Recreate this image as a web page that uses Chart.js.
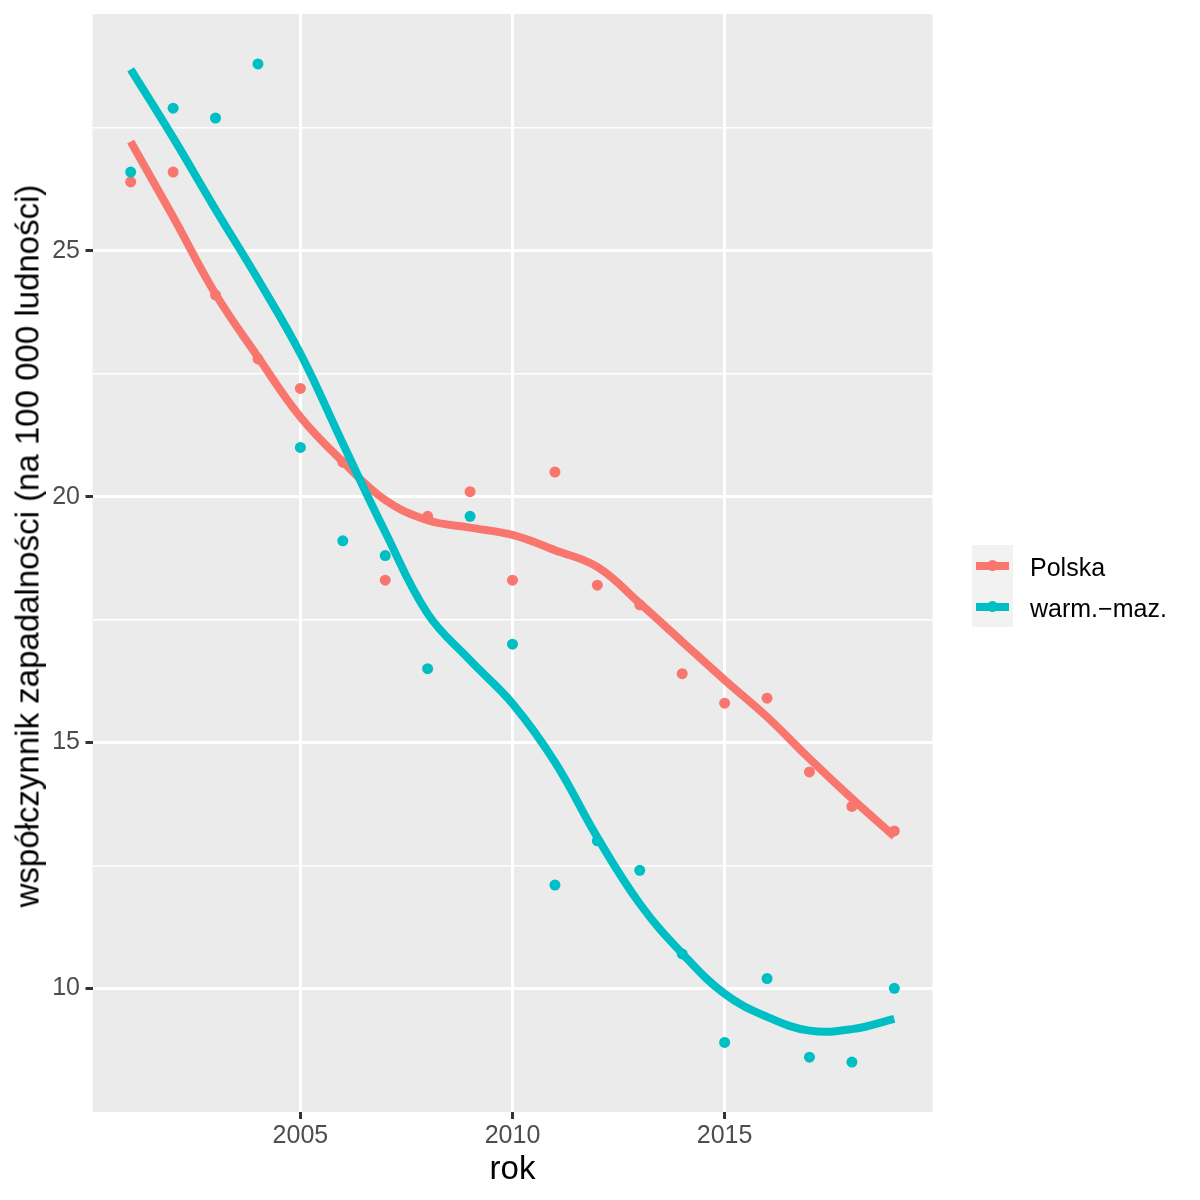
<!DOCTYPE html>
<html>
<head>
<meta charset="utf-8">
<script src="https://cdn.jsdelivr.net/npm/chart.js@4.4.1/dist/chart.umd.min.js"></script>
<style>
  html, body { margin: 0; padding: 0; background: #ffffff; }
  #wrap { position: relative; width: 1200px; height: 1200px; font-family: "Liberation Sans", Arial, sans-serif; }
  #c { position: absolute; left: 0; top: 0; }
  .title { position: absolute; white-space: nowrap; color: #000000; font-size: 33px; line-height: 33px; }
  #ytitle { left: 27px; top: 545.5px; transform: translate(-50%, -50%) rotate(-90deg); }
  #xtitle { left: 512.5px; top: 1167px; transform: translate(-50%, -50%); }
  #legend { position: absolute; left: 972px; top: 545px; }
  .key { position: absolute; left: 0; width: 41px; height: 41px; background: #F2F2F2; }
  .kline { position: absolute; left: 4px; width: 33px; height: 8px; top: 16.5px; }
  .kdot { position: absolute; left: 15px; top: 15px; width: 11px; height: 11px; border-radius: 50%; }
  .ltext { position: absolute; left: 58px; white-space: nowrap; font-size: 25px; line-height: 25px; color: #000000; transform: translateY(-50%); }
</style>
</head>
<body>
<div id="wrap">
  <canvas id="c" width="1200" height="1200"></canvas>
  <div id="ytitle" class="title"></div>
  <div id="xtitle" class="title"></div>
  <div id="legend"></div>
</div>
<script>
// ---- data ----
const years = [2001, 2002, 2003, 2004, 2005, 2006, 2007, 2008, 2009, 2010,
               2011, 2012, 2013, 2014, 2015, 2016, 2017, 2018, 2019];
const polska = [26.4, 26.6, 24.1, 22.8, 22.2, 20.7, 18.3, 19.6, 20.1, 18.3,
                20.5, 18.2, 17.8, 16.4, 15.8, 15.9, 14.4, 13.7, 13.2];
const warmMaz = [26.6, 27.9, 27.7, 28.8, 21.0, 19.1, 18.8, 16.5, 19.6, 17.0,
                 12.1, 13.0, 12.4, 10.7, 8.9, 10.2, 8.6, 8.5, 10.0];
// smoothed (loess) trend lines, read at each year
const polskaSmooth = [27.22, 25.69, 24.12, 22.84, 21.62, 20.71, 19.93, 19.52, 19.37, 19.22,
                      18.91, 18.57, 17.83, 17.05, 16.27, 15.52, 14.67, 13.86, 13.09];
const warmMazSmooth = [28.69, 27.30, 25.84, 24.42, 22.91, 21.08, 19.28, 17.62, 16.67, 15.79,
                       14.60, 13.07, 11.72, 10.71, 9.89, 9.42, 9.14, 9.17, 9.38];
const seriesNames = ["Polska", "warm.\u2212maz."];
const seriesColors = ["#F8766D", "#00BFC4"];
const xTickValues = [2005, 2010, 2015];
const yMajorTicks = [10, 15, 20, 25];
const yMinorTicks = [12.5, 17.5, 22.5, 27.5];
const xTitle = "rok";
const yTitle = "współczynnik zapadalności (na 100 000 ludności)";

// ---- text elements ----
document.getElementById("xtitle").textContent = xTitle;
document.getElementById("ytitle").textContent = yTitle;
const legendEl = document.getElementById("legend");
seriesNames.forEach((name, i) => {
  const key = document.createElement("div");
  key.className = "key";
  key.style.top = (41 * i) + "px";
  const line = document.createElement("div");
  line.className = "kline";
  line.style.background = seriesColors[i];
  const dot = document.createElement("div");
  dot.className = "kdot";
  dot.style.background = seriesColors[i];
  key.appendChild(line); key.appendChild(dot);
  legendEl.appendChild(key);
  const t = document.createElement("div");
  t.className = "ltext";
  t.style.top = (20.5 + 41 * i + 1) + "px";
  t.textContent = name;
  legendEl.appendChild(t);
});

// ---- chart ----
Chart.defaults.font.family = '"Liberation Sans", Arial, sans-serif';
const toXY = vals => years.map((x, i) => ({ x: x, y: vals[i] }));
const isMajorY = v => yMajorTicks.includes(v);

const panelBg = {
  id: "panelBg",
  beforeDraw(chart) {
    const { ctx, chartArea: a } = chart;
    ctx.save();
    ctx.fillStyle = "#EBEBEB";
    ctx.fillRect(a.left, a.top, a.right - a.left, a.bottom - a.top);
    ctx.restore();
  }
};

new Chart(document.getElementById("c"), {
  type: "line",
  data: {
    datasets: [
      { label: seriesNames[1] + " (trend)", data: toXY(warmMazSmooth), borderColor: seriesColors[1],
        borderWidth: 8, pointRadius: 0, pointHoverRadius: 0, tension: 0.4, fill: false, order: 0 },
      { label: seriesNames[0] + " (trend)", data: toXY(polskaSmooth), borderColor: seriesColors[0],
        borderWidth: 8, pointRadius: 0, pointHoverRadius: 0, tension: 0.4, fill: false, order: 1 },
      { label: seriesNames[1], data: toXY(warmMaz), showLine: false, pointRadius: 5.5, pointBorderWidth: 0,
        pointBackgroundColor: seriesColors[1], pointBorderColor: seriesColors[1], order: 2 },
      { label: seriesNames[0], data: toXY(polska), showLine: false, pointRadius: 5.5, pointBorderWidth: 0,
        pointBackgroundColor: seriesColors[0], pointBorderColor: seriesColors[0], order: 3 }
    ]
  },
  options: {
    responsive: false,
    animation: false,
    devicePixelRatio: 1,
    layout: { padding: { left: 0, right: 267.5, top: 14, bottom: 0 } },
    plugins: { legend: { display: false }, tooltip: { enabled: false } },
    scales: {
      x: {
        type: "linear", min: 2000.1, max: 2019.9,
        afterBuildTicks: s => { s.ticks = xTickValues.map(v => ({ value: v })); },
        afterFit: s => { s.height = 88; s.paddingLeft = 0; s.paddingRight = 0; },
        border: { display: false },
        grid: { color: "#FFFFFF", lineWidth: 3, drawTicks: true, tickLength: 7, tickColor: "#333333", tickWidth: 3 },
        ticks: { color: "#4D4D4D", font: { size: 25 }, padding: 2, maxRotation: 0, autoSkip: false,
                 callback: v => String(v) }
      },
      y: {
        type: "linear", min: 7.485, max: 29.815,
        afterBuildTicks: s => { s.ticks = yMajorTicks.concat(yMinorTicks).sort((a, b) => a - b).map(v => ({ value: v })); },
        afterFit: s => { s.width = 92.5; s.paddingTop = 0; s.paddingBottom = 0; },
        border: { display: false },
        grid: { color: "#FFFFFF", lineWidth: c => isMajorY(c.tick.value) ? 3 : 1.5, drawTicks: true, tickLength: 7,
                tickColor: c => isMajorY(c.tick.value) ? "#333333" : "rgba(0,0,0,0)", tickWidth: c => isMajorY(c.tick.value) ? 3 : 0 },
        ticks: { color: "#4D4D4D", font: { size: 25 }, padding: 5.5, autoSkip: false,
                 callback: v => isMajorY(v) ? String(v) : "" }
      }
    }
  },
  plugins: [panelBg]
});
</script>
</body>
</html>
